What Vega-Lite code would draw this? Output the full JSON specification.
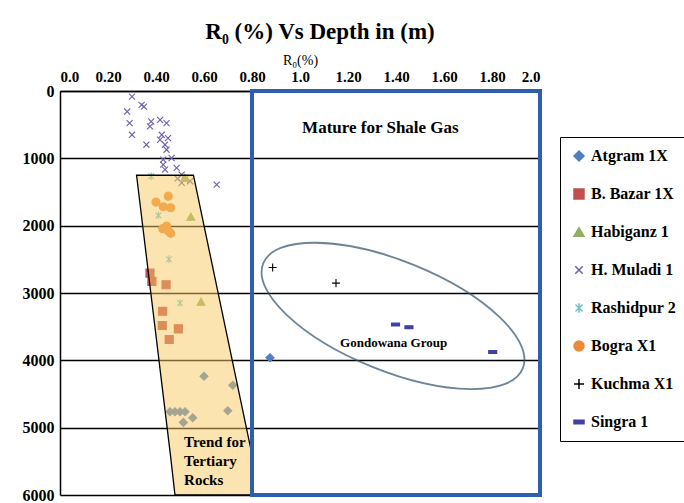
{
  "$schema": "https://vega.github.io/schema/vega-lite/v6.json",
  "autosize": {"type": "none"},
  "width": 480,
  "height": 404,
  "padding": {"left": 60, "top": 91, "right": 144, "bottom": 8},
  "background": "white",
  "title": {
    "text": "R₀ (%) Vs Depth in (m)",
    "font": "Liberation Serif",
    "fontSize": 23,
    "fontWeight": "bold",
    "color": "black",
    "anchor": "middle",
    "dx": 20,
    "offset": 9
  },
  "config": {
    "view": {"stroke": null},
    "legend": {
      "orient": "none",
      "legendX": 500,
      "legendY": 46,
      "strokeColor": "black",
      "fillColor": "white",
      "padding": 11,
      "rowPadding": 22,
      "labelFont": "Liberation Serif",
      "labelFontWeight": "bold",
      "labelFontSize": 16,
      "labelColor": "black",
      "labelOffset": 4,
      "symbolSize": 100,
      "symbolStrokeWidth": 1.5,
      "labelLimit": 200
    }
  },
  "layer": [
    {
      "data": {"values": [
        {"well": "H. Muladi 1", "ro": 0.30, "depth": 84},
        {"well": "H. Muladi 1", "ro": 0.28, "depth": 305},
        {"well": "H. Muladi 1", "ro": 0.34, "depth": 207},
        {"well": "H. Muladi 1", "ro": 0.35, "depth": 232},
        {"well": "H. Muladi 1", "ro": 0.29, "depth": 478},
        {"well": "H. Muladi 1", "ro": 0.30, "depth": 650},
        {"well": "H. Muladi 1", "ro": 0.38, "depth": 453},
        {"well": "H. Muladi 1", "ro": 0.375, "depth": 526},
        {"well": "H. Muladi 1", "ro": 0.36, "depth": 798},
        {"well": "H. Muladi 1", "ro": 0.417, "depth": 429},
        {"well": "H. Muladi 1", "ro": 0.444, "depth": 478},
        {"well": "H. Muladi 1", "ro": 0.424, "depth": 650},
        {"well": "H. Muladi 1", "ro": 0.417, "depth": 724},
        {"well": "H. Muladi 1", "ro": 0.4375, "depth": 798},
        {"well": "H. Muladi 1", "ro": 0.444, "depth": 872},
        {"well": "H. Muladi 1", "ro": 0.465, "depth": 995},
        {"well": "H. Muladi 1", "ro": 0.43, "depth": 1020},
        {"well": "H. Muladi 1", "ro": 0.43, "depth": 1094},
        {"well": "H. Muladi 1", "ro": 0.4375, "depth": 1168},
        {"well": "H. Muladi 1", "ro": 0.486, "depth": 1143},
        {"well": "H. Muladi 1", "ro": 0.45, "depth": 700},
        {"well": "H. Muladi 1", "ro": 0.507, "depth": 1242},
        {"well": "H. Muladi 1", "ro": 0.521, "depth": 1316},
        {"well": "H. Muladi 1", "ro": 0.542, "depth": 1340},
        {"well": "H. Muladi 1", "ro": 0.507, "depth": 1365},
        {"well": "H. Muladi 1", "ro": 0.49, "depth": 1300},
        {"well": "H. Muladi 1", "ro": 0.653, "depth": 1390},
        {"well": "Rashidpur 2", "ro": 0.38, "depth": 1267},
        {"well": "Rashidpur 2", "ro": 0.41, "depth": 1848},
        {"well": "Rashidpur 2", "ro": 0.454, "depth": 2498},
        {"well": "Rashidpur 2", "ro": 0.50, "depth": 3148},
        {"well": "Habiganz 1", "ro": 0.52, "depth": 1290},
        {"well": "Habiganz 1", "ro": 0.545, "depth": 1867},
        {"well": "Habiganz 1", "ro": 0.5875, "depth": 3129},
        {"well": "Bogra X1", "ro": 0.451, "depth": 1562},
        {"well": "Bogra X1", "ro": 0.40, "depth": 1650},
        {"well": "Bogra X1", "ro": 0.43, "depth": 1719},
        {"well": "Bogra X1", "ro": 0.461, "depth": 1734},
        {"well": "Bogra X1", "ro": 0.428, "depth": 2045},
        {"well": "Bogra X1", "ro": 0.444, "depth": 2005},
        {"well": "Bogra X1", "ro": 0.451, "depth": 2079},
        {"well": "Bogra X1", "ro": 0.461, "depth": 2114},
        {"well": "B. Bazar 1X", "ro": 0.375, "depth": 2705},
        {"well": "B. Bazar 1X", "ro": 0.383, "depth": 2828},
        {"well": "B. Bazar 1X", "ro": 0.442, "depth": 2877},
        {"well": "B. Bazar 1X", "ro": 0.428, "depth": 3271},
        {"well": "B. Bazar 1X", "ro": 0.426, "depth": 3483},
        {"well": "B. Bazar 1X", "ro": 0.493, "depth": 3532},
        {"well": "B. Bazar 1X", "ro": 0.455, "depth": 3690},
        {"well": "Atgram 1X", "ro": 0.60, "depth": 4237},
        {"well": "Atgram 1X", "ro": 0.72, "depth": 4370},
        {"well": "Atgram 1X", "ro": 0.458, "depth": 4764},
        {"well": "Atgram 1X", "ro": 0.479, "depth": 4764},
        {"well": "Atgram 1X", "ro": 0.50, "depth": 4764},
        {"well": "Atgram 1X", "ro": 0.521, "depth": 4764},
        {"well": "Atgram 1X", "ro": 0.514, "depth": 4922},
        {"well": "Atgram 1X", "ro": 0.553, "depth": 4853},
        {"well": "Atgram 1X", "ro": 0.699, "depth": 4749},
        {"well": "Atgram 1X", "ro": 0.875, "depth": 3961},
        {"well": "Kuchma X1", "ro": 0.886, "depth": 2621},
        {"well": "Kuchma X1", "ro": 1.15, "depth": 2853},
        {"well": "Singra 1", "ro": 1.398, "depth": 3469},
        {"well": "Singra 1", "ro": 1.454, "depth": 3508},
        {"well": "Singra 1", "ro": 1.803, "depth": 3877}
      ]},
      "mark": {"type": "point", "size": 65, "strokeWidth": 1.1, "opacity": 1},
      "encoding": {
        "x": {
          "field": "ro", "type": "quantitative",
          "scale": {"domain": [0, 2], "nice": false, "zero": false},
          "axis": {
            "orient": "top",
            "values": [0, 0.2, 0.4, 0.6, 0.8, 1.0, 1.2, 1.4, 1.6, 1.8, 2.0],
            "labelExpr": "datum.value == 0 ? '0.0' : datum.value == 1 ? '1.0' : datum.value == 2 ? '2.0' : format(datum.value, '.2f')",
            "title": "R₀(%)",
            "titleFont": "Liberation Serif",
            "titleFontSize": 14,
            "titleFontWeight": "normal",
            "titleColor": "black",
            "titlePadding": 2,
            "labelFont": "Liberation Serif",
            "labelFontWeight": "bold",
            "labelFontSize": 15,
            "labelColor": "black",
            "labelPadding": 7,
            "ticks": false,
            "grid": false,
            "domainColor": "black",
            "domainWidth": 1.5
          }
        },
        "y": {
          "field": "depth", "type": "quantitative",
          "scale": {"domain": [0, 6000], "nice": false, "reverse": true},
          "axis": {
            "values": [0, 1000, 2000, 3000, 4000, 5000, 6000],
            "format": "d",
            "title": null,
            "labelFont": "Liberation Serif",
            "labelFontWeight": "bold",
            "labelFontSize": 16,
            "labelColor": "black",
            "labelPadding": 6,
            "ticks": false,
            "grid": true,
            "gridColor": "black",
            "gridWidth": 1.4,
            "gridOpacity": 1,
            "domainColor": "black",
            "domainWidth": 1.5
          }
        },
        "shape": {
          "field": "well", "type": "nominal", "title": null,
          "scale": {
            "domain": ["Atgram 1X", "B. Bazar 1X", "Habiganz 1", "H. Muladi 1", "Rashidpur 2", "Bogra X1", "Kuchma X1", "Singra 1"],
            "range": ["diamond", "square", "triangle-up", "M-0.75,-0.75L0.75,0.75M-0.75,0.75L0.75,-0.75", "M-0.7,-0.7L0.7,0.7M-0.7,0.7L0.7,-0.7M0,-0.95L0,0.95", "circle", "M-1,0L1,0M0,-1L0,1", "M-1,-0.35L1,-0.35L1,0.35L-1,0.35Z"]
          }
        },
        "fill": {
          "field": "well", "type": "nominal", "title": null,
          "scale": {
            "domain": ["Atgram 1X", "B. Bazar 1X", "Habiganz 1", "H. Muladi 1", "Rashidpur 2", "Bogra X1", "Kuchma X1", "Singra 1"],
            "range": ["#4F7FBF", "#C0504D", "#8FB060", "#6A5FB0", "#6FC0CC", "#E98B3A", "#000000", "#4040A8"]
          }
        },
        "stroke": {
          "field": "well", "type": "nominal", "title": null,
          "scale": {
            "domain": ["Atgram 1X", "B. Bazar 1X", "Habiganz 1", "H. Muladi 1", "Rashidpur 2", "Bogra X1", "Kuchma X1", "Singra 1"],
            "range": ["#4F7FBF", "#C0504D", "#8FB060", "#6A5FB0", "#6FC0CC", "#E98B3A", "#000000", "#4040A8"]
          }
        }
      }
    },
    {
      "data": {"values": [
        {"depth": 1251, "left": 0.319, "right": 0.556},
        {"depth": 5400, "left": 0.46, "right": 0.8},
        {"depth": 6000, "left": 0.479, "right": 0.8}
      ]},
      "mark": {"type": "area", "orient": "horizontal", "fill": "#F9C961", "fillOpacity": 0.5, "stroke": "black", "strokeWidth": 1.3},
      "encoding": {
        "y": {"field": "depth", "type": "quantitative"},
        "x": {"field": "left", "type": "quantitative"},
        "x2": {"field": "right"}
      }
    },
    {
      "data": {"values": [{"x1": 0.8, "x2": 2.0, "y1": 0, "y2": 6000}]},
      "mark": {"type": "rect", "fill": null, "stroke": "#2E5FAE", "strokeWidth": 4},
      "encoding": {
        "x": {"field": "x1", "type": "quantitative"},
        "x2": {"field": "x2"},
        "y": {"field": "y1", "type": "quantitative"},
        "y2": {"field": "y2"}
      }
    },
    {
      "data": {"values": [{"ro": 1.3875, "depth": 3340}]},
      "mark": {"type": "point", "shape": "M-1,0A1,0.393 0 1,1 1,0A1,0.393 0 1,1 -1,0Z", "size": 78400, "angle": 22, "filled": false, "stroke": "#34506A", "strokeWidth": 1.8},
      "encoding": {
        "x": {"field": "ro", "type": "quantitative"},
        "y": {"field": "depth", "type": "quantitative"}
      }
    },
    {
      "data": {"values": [{"ro": 1.335, "depth": 547, "label": "Mature for Shale Gas"}]},
      "mark": {"type": "text", "font": "Liberation Serif", "fontWeight": "bold", "fontSize": 17, "color": "black", "align": "center", "baseline": "middle"},
      "encoding": {
        "x": {"field": "ro", "type": "quantitative"},
        "y": {"field": "depth", "type": "quantitative"},
        "text": {"field": "label"}
      }
    },
    {
      "data": {"values": [{"ro": 1.39, "depth": 3740, "label": "Gondowana Group"}]},
      "mark": {"type": "text", "font": "Liberation Serif", "fontWeight": "bold", "fontSize": 13, "color": "black", "align": "center", "baseline": "middle"},
      "encoding": {
        "x": {"field": "ro", "type": "quantitative"},
        "y": {"field": "depth", "type": "quantitative"},
        "text": {"field": "label"}
      }
    },
    {
      "data": {"values": [{"ro": 0.517, "depth": 5110, "label": ["Trend for", "Tertiary", "Rocks"]}]},
      "mark": {"type": "text", "font": "Liberation Serif", "fontWeight": "bold", "fontSize": 15, "lineHeight": 19, "color": "black", "align": "left", "baseline": "top"},
      "encoding": {
        "x": {"field": "ro", "type": "quantitative"},
        "y": {"field": "depth", "type": "quantitative"},
        "text": {"field": "label"}
      }
    }
  ]
}
